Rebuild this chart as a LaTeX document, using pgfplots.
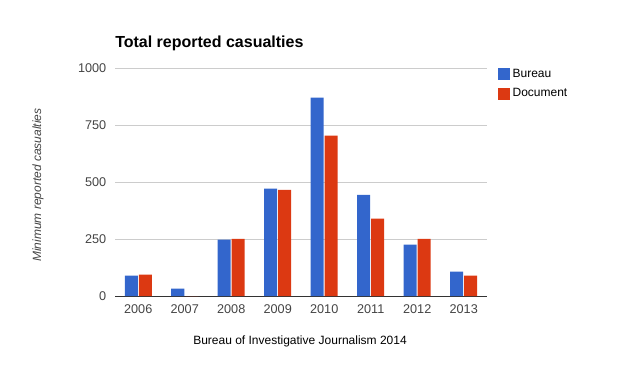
\documentclass[border=0pt]{standalone}
\usepackage{fontspec}
\setmainfont{Liberation Sans}
\usepackage{pgfplots}
\pgfplotsset{compat=1.18}
\definecolor{gblue}{HTML}{3366CC}
\definecolor{gred}{HTML}{DC3912}
\definecolor{ggrid}{HTML}{CCCCCC}
\definecolor{gtext}{HTML}{444444}
\definecolor{gaxis}{HTML}{333333}
\begin{document}
\begin{tikzpicture}
\useasboundingbox (0,0) rectangle (474pt,273.75pt);
\begin{axis}[
  at={(86.25pt,51.75pt)}, anchor=south west,
  scale only axis, width=279pt, height=171pt,
  ybar, bar width=9.75pt,
  xmin=-0.5, xmax=7.5, ymin=0, ymax=1000,
  xtick={0,...,7},
  xticklabels={2006,2007,2008,2009,2010,2011,2012,2013},
  ytick={0,250,500,750,1000},
  yticklabel style={/pgf/number format/1000 sep={}},
  ymajorgrids, grid style={ggrid, line width=0.75pt},
  axis x line*=bottom, axis y line*=left,
  x axis line style={gaxis, line width=0.75pt, -},
  y axis line style={draw=none},
  major tick length=0pt,
  ticklabel style={font=\fontsize{9.5}{11}\selectfont, text=gtext},
  xticklabel style={yshift=-3pt},
  yticklabel style={xshift=-3pt},
  /pgf/number format/assume math mode=true,
  legend style={at={(1.018,1.02)}, anchor=north west, draw=none, fill=none,
    font=\fontsize{9}{11}\selectfont, text=black, row sep=3pt,
    legend cell align=left},
  legend image code/.code={\fill[#1] (0pt,-4.5pt) rectangle (9pt,4.5pt);},
]
\addplot[fill=gblue, draw=none, bar shift=-5.25pt] coordinates {
 (0,89) (1,32) (2,247) (3,471) (4,870) (5,444) (6,225) (7,107)};
\addplot[fill=gred, draw=none, bar shift=5.25pt] coordinates {
 (0,94) (1,0) (2,251) (3,466) (4,703) (5,339) (6,251) (7,89)};
\legend{Bureau, Document}
\end{axis}
\node[anchor=base west, inner sep=0pt, font=\fontsize{12}{14}\selectfont\bfseries] at (86.25pt,237.75pt) {Total reported casualties};
\node[rotate=90, inner sep=0pt, font=\fontsize{9}{11}\selectfont\itshape, text=gtext] at (28.5pt,135pt) {Minimum reported casualties};
\node[font=\fontsize{9}{11}\selectfont, text=black] at (225pt,18pt) {Bureau of Investigative Journalism 2014};
\end{tikzpicture}
\end{document}
